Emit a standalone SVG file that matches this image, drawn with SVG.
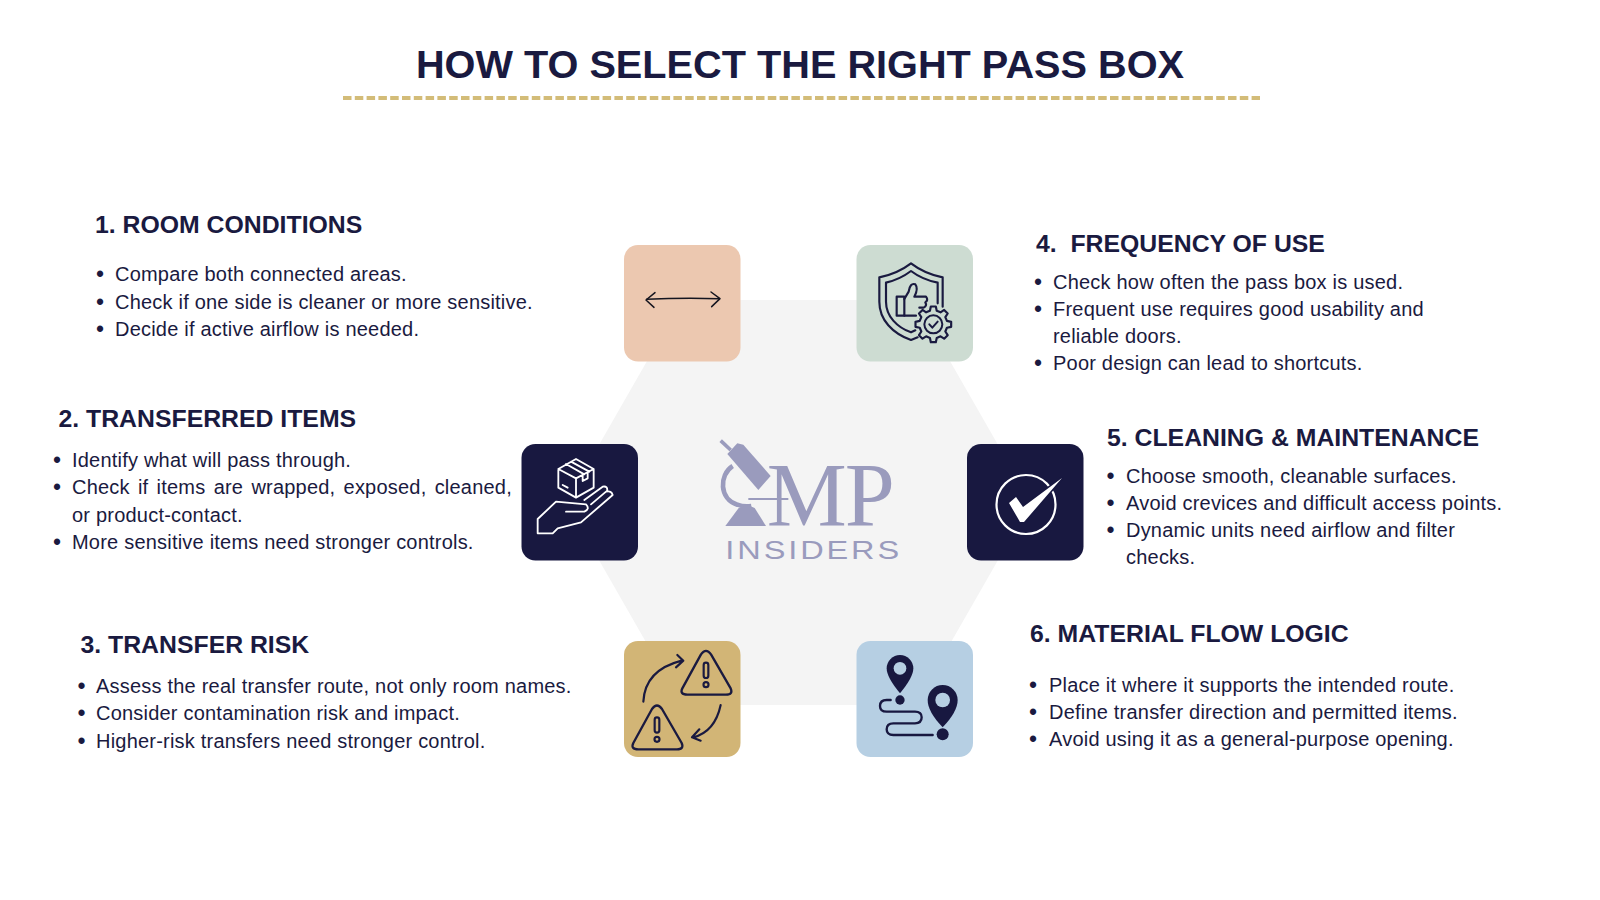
<svg xmlns="http://www.w3.org/2000/svg" width="1600" height="900" viewBox="0 0 1600 900">
<defs>
<style>
text{font-family:"Liberation Sans",Arial,sans-serif;fill:#1a1a40}
.t{font-size:39.7px;font-weight:700;text-anchor:middle}
.h{font-size:24.8px;font-weight:700}
.b{font-size:20px;letter-spacing:.21px}
.d{font-size:23px;text-anchor:middle;transform:translateY(1px)}
.s{fill:none;stroke:#1a1a40;stroke-linecap:round;stroke-linejoin:round}
.w{fill:none;stroke:#fff;stroke-width:5.5;stroke-linecap:round;stroke-linejoin:round}
</style>
<g id="warn">
<path class="s" stroke-width="7" d="M303,103Q318,82 333,103L392,205Q400,224 378,224H262Q238,224 247,205Z"/>
<rect class="s" stroke-width="6.500" x="311" y="128" width="14" height="46" rx="7"/>
<circle class="s" stroke-width="6.500" cx="318" cy="194" r="7.500"/>
</g>
</defs>
<rect width="1600" height="900" fill="#fff"/>
<g id="title">
<text class="t" x="800" y="78">HOW TO SELECT THE RIGHT PASS BOX</text>
<line x1="343" y1="98" x2="1260" y2="98" stroke="#d3bc78" stroke-width="4" stroke-dasharray="8.5 3.3"/>
</g>
<polygon id="hexagon" points="682,300 915,300 1031,502.500 915,705 682,705 566,502.500" fill="#f4f4f4"/>
<g id="logo" transform="translate(700,430) scale(.33333)" fill="#9a9bbd">
<line x1="62" y1="32" x2="92" y2="60" stroke="#9a9bbd" stroke-width="11"/>
<polygon points="82,72 112,40 130,44 212,138 175,180"/>
<path d="M98,108C56,135 58,208 112,224C125,229 140,230 154,228" fill="none" stroke="#9a9bbd" stroke-width="14"/>
<line x1="145" y1="207" x2="265" y2="207" stroke="#9a9bbd" stroke-width="6"/>
<path d="M76,288L116,234Q140,220 164,234L198,288Z"/>
<text x="200" y="287" style="font-family:'Liberation Serif',serif;font-size:270px;fill:#9a9bbd;letter-spacing:-6px">MP</text>
<text transform="translate(76,386) scale(1.25,1)" style="font-size:78px;fill:#9a9bbd;letter-spacing:7px">INSIDERS</text>
</g>
<g id="connectors"></g>
<g id="node-1">
<rect x="624" y="245" width="116.500" height="116.500" rx="14" fill="#ecc8b0"/>
<g transform="translate(600,220) scale(.33333)" fill="none" stroke="#15151f" stroke-width="4.500" stroke-linecap="round" stroke-linejoin="round">
<path d="M140,238Q250,232 358,236"/><path d="M165,218L138,240L162,262"/><path d="M333,216L360,236L335,260"/>
</g>
<text class="h" x="95" y="233">1. ROOM CONDITIONS</text>
<text class="d" x="100" y="281">•</text><text class="b" x="115" y="281">Compare both connected areas.</text>
<text class="d" x="100" y="308.500">•</text><text class="b" x="115" y="308.500">Check if one side is cleaner or more sensitive.</text>
<text class="d" x="100" y="336">•</text><text class="b" x="115" y="336">Decide if active airflow is needed.</text>
</g>
<g id="node-2">
<rect x="521.500" y="444" width="116.500" height="116.500" rx="14" fill="#181840"/>
<g transform="translate(521,445) scale(.33333)">
<path class="w" d="M165,42L218,72V128L165,158L112,128V72ZM112,72L165,100L218,72M165,100V158M135,57L190,88M150,50L205,80M125,120L140,128M185,88V108L200,100V80"/>
<path class="w" d="M135,200H190Q208,192 195,178L105,170L50,222V265H95L110,250L180,232L275,150Q272,136 255,140L210,178M190,165L245,125Q262,122 258,140"/>
</g>
<text class="h" x="58.500" y="427">2. TRANSFERRED ITEMS</text>
<text class="d" x="57" y="466.500">•</text><text class="b" x="72" y="466.500">Identify what will pass through.</text>
<text class="d" x="57" y="494">•</text><text class="b" x="72" y="494" style="word-spacing:2.45px">Check if items are wrapped, exposed, cleaned,</text>
<text class="b" x="72" y="521.500">or product-contact.</text>
<text class="d" x="57" y="549">•</text><text class="b" x="72" y="549">More sensitive items need stronger controls.</text>
</g>
<g id="node-3">
<rect x="624" y="641" width="116.500" height="116" rx="14" fill="#d2b576"/>
<g transform="translate(600,620) scale(.33333)">
<use href="#warn"/>
<use href="#warn" transform="translate(-147,164)"/>
<path class="s" stroke-width="6.500" d="M130,245Q135,150 245,122M232,105L250,122L228,142M362,255Q345,335 280,352M298,328L276,352L302,362"/>
</g>
<text class="h" x="80.500" y="653">3. TRANSFER RISK</text>
<text class="d" x="81.500" y="693">•</text><text class="b" x="96" y="693">Assess the real transfer route, not only room names.</text>
<text class="d" x="81.500" y="720">•</text><text class="b" x="96" y="720">Consider contamination risk and impact.</text>
<text class="d" x="81.500" y="748">•</text><text class="b" x="96" y="748">Higher-risk transfers need stronger control.</text>
</g>
<g id="node-4">
<rect x="856.500" y="245" width="116.500" height="116.500" rx="14" fill="#cddcd2"/>
<g transform="translate(856,245) scale(.33333)">
<path class="s" stroke-width="6.500" d="M260,185V97C225,90 195,78 165,55C135,78 105,90 70,97V170C70,225 110,265 165,285L185,277"/>
<path class="s" stroke-width="6.500" d="M245,175V113C215,107 190,97 165,78C140,97 115,107 90,113V170C90,215 125,248 165,262L178,256"/>
<rect class="s" stroke-width="6.500" x="122" y="155" width="23" height="57"/>
<path class="s" stroke-width="6.500" d="M145,162L158,140Q162,112 178,118Q188,130 175,155H210Q218,165 208,172Q214,182 203,188H190M145,212H180"/>
<polygon class="s" style="fill:#cddcd2" stroke-width="6.500" transform="translate(232,238)" points="-10.200,-40.800 -7.500,-53.500 7.500,-53.500 10.200,-40.800 21.600,-36 32.500,-43.100 43.100,-32.500 36,-21.600 40.800,-10.200 53.500,-7.500 53.500,7.500 40.800,10.200 36,21.600 43.100,32.500 32.500,43.100 21.600,36 10.200,40.800 7.500,53.500 -7.500,53.500 -10.200,40.800 -21.600,36 -32.500,43.100 -43.100,32.500 -36,21.600 -40.800,10.200 -53.500,7.500 -53.500,-7.500 -40.800,-10.200 -36,-21.600 -43.100,-32.500 -32.500,-43.100 -21.600,-36"/>
<circle class="s" stroke-width="6" cx="232" cy="238" r="27"/>
<path class="s" stroke-width="6" d="M220,238L229,248L245,230"/>
</g>
<text class="h" x="1036" y="252" xml:space="preserve">4.  FREQUENCY OF USE</text>
<text class="d" x="1038" y="288.500">•</text><text class="b" x="1053" y="288.500">Check how often the pass box is used.</text>
<text class="d" x="1038" y="315.500">•</text><text class="b" x="1053" y="315.500">Frequent use requires good usability and</text>
<text class="b" x="1053" y="343">reliable doors.</text>
<text class="d" x="1038" y="370">•</text><text class="b" x="1053" y="370">Poor design can lead to shortcuts.</text>
</g>
<g id="node-5">
<rect x="967" y="444" width="116.500" height="116.500" rx="14" fill="#181840"/>
<circle cx="1026" cy="504.500" r="29.500" fill="none" stroke="#fff" stroke-width="2.200"/>
<polygon points="1009,503 1016,497 1023,507 1062,478 1024,522 1020,522" fill="#fff" stroke="#181840" stroke-width="3" paint-order="stroke"/>
<text class="h" x="1107" y="445.500">5. CLEANING &amp; MAINTENANCE</text>
<text class="d" x="1110.500" y="482.500">•</text><text class="b" x="1126" y="482.500">Choose smooth, cleanable surfaces.</text>
<text class="d" x="1110.500" y="510">•</text><text class="b" x="1126" y="510">Avoid crevices and difficult access points.</text>
<text class="d" x="1110.500" y="537">•</text><text class="b" x="1126" y="537">Dynamic units need airflow and filter</text>
<text class="b" x="1126" y="564">checks.</text>
</g>
<g id="node-6">
<rect x="856.500" y="641" width="116.500" height="116" rx="14" fill="#b6cfe3"/>
<g transform="translate(600,620) scale(.33333)">
<path fill="#181840" d="M860,145A40,40 0 1 1 940,145Q940,172 900,220Q860,172 860,145Z"/>
<circle cx="900" cy="145" r="19" fill="#b6cfe3"/>
<circle cx="900" cy="240" r="14" fill="#181840"/>
<path fill="#181840" d="M983,240A45,45 0 1 1 1073,240Q1073,275 1028,322Q983,275 983,240Z"/>
<circle cx="1028" cy="240" r="22" fill="#b6cfe3"/>
<circle cx="1028" cy="343" r="18" fill="#181840"/>
<path fill="none" stroke="#181840" stroke-width="7" stroke-linecap="round" d="M872,240H860Q840,240 840,258Q840,275 860,275H945Q965,275 965,292Q965,310 945,310H880Q860,310 860,328Q860,345 880,345H998"/>
</g>
<text class="h" x="1030" y="642">6. MATERIAL FLOW LOGIC</text>
<text class="d" x="1033" y="691.500">•</text><text class="b" x="1049" y="691.500">Place it where it supports the intended route.</text>
<text class="d" x="1033" y="718.500">•</text><text class="b" x="1049" y="718.500">Define transfer direction and permitted items.</text>
<text class="d" x="1033" y="746">•</text><text class="b" x="1049" y="746">Avoid using it as a general-purpose opening.</text>
</g>
</svg>
